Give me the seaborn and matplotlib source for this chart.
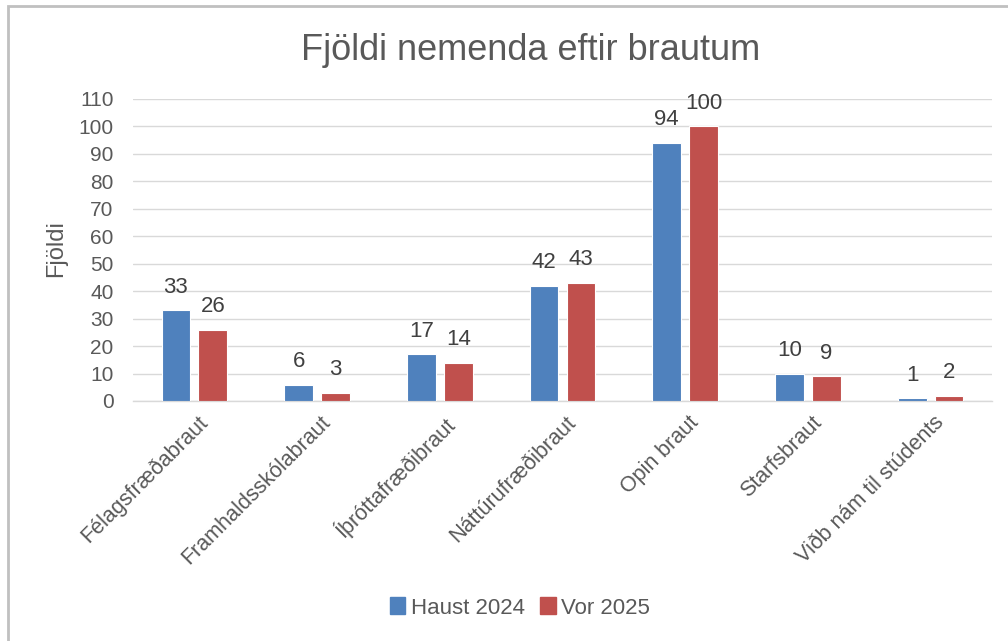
import matplotlib
matplotlib.use("Agg")
import matplotlib.pyplot as plt
import matplotlib.patches as mpatches
import matplotlib.transforms as mtransforms
import seaborn as sns
import pandas as pd

categories = ["Félagsfræðabraut", "Framhaldsskólabraut", "Íþróttafræðibraut",
              "Náttúrufræðibraut", "Opin braut", "Starfsbraut", "Viðb nám til stúdents"]
haust_2024 = [33, 6, 17, 42, 94, 10, 1]
vor_2025 = [26, 3, 14, 43, 100, 9, 2]
series_names = ["Haust 2024", "Vor 2025"]
yticks = list(range(0, 111, 10))

df = pd.DataFrame({
    "Braut": categories * 2,
    "Fjöldi": haust_2024 + vor_2025,
    "Tímabil": [series_names[0]] * len(categories) + [series_names[1]] * len(categories),
})

sns.set_theme(style="white")
plt.rcParams["font.family"] = ["Liberation Sans", "DejaVu Sans"]
grey = "#595959"

fig = plt.figure(figsize=(10.08, 6.41), dpi=100)
ax = fig.add_axes([133/1008, 1 - 401/641, (992-133)/1008, (401-99)/641])

palette = {"Haust 2024": "#4F81BD", "Vor 2025": "#C0504D"}
sns.barplot(data=df, x="Braut", y="Fjöldi", hue="Tímabil", palette=palette,
            width=0.6, gap=0.22, ax=ax, edgecolor="white", linewidth=0.8,
            saturation=1, legend=False, zorder=3)

for cont in ax.containers:
    ax.bar_label(cont, padding=9, fontsize=16, color="#404040")

ax.set_ylim(0, 110)
ax.set_yticks(yticks)
ax.set_xlim(-0.5, len(categories) - 0.5)
ax.yaxis.grid(True, color="#D9D9D9", linewidth=1, zorder=0)
for s in ["top", "right", "left"]:
    ax.spines[s].set_visible(False)
ax.spines["bottom"].set_color("#D9D9D9")
ax.spines["bottom"].set_linewidth(1)
ax.tick_params(axis="y", length=0, labelsize=15, colors=grey, pad=14)
ax.tick_params(axis="x", length=0, colors=grey, pad=8)
offset = mtransforms.ScaledTranslation(3/100, 0, fig.dpi_scale_trans)
for lbl in ax.get_xticklabels():
    lbl.set_rotation(45)
    lbl.set_ha("right")
    lbl.set_va("top")
    lbl.set_rotation_mode("anchor")
    lbl.set_fontsize(15.5)
    lbl.set_color(grey)
    lbl.set_transform(lbl.get_transform() + offset)
ax.set_xlabel("")
ax.set_ylabel("")
fig.text(56/1008, 1 - 249/641, "Fjöldi", rotation=90, ha="center", va="center",
         fontsize=17, color=grey)

fig.text(531/1008, 1 - 60/641, "Fjöldi nemenda eftir brautum", ha="center", va="baseline",
         fontsize=26, color=grey)

handles = [mpatches.Patch(color=palette[n], label=n) for n in series_names]
fig.legend(handles=handles, loc="center", bbox_to_anchor=(520/1008, 1 - 608/641),
           ncol=2, frameon=False, fontsize=16, handlelength=0.7, handleheight=0.8,
           handletextpad=0.25, columnspacing=0.7, labelcolor=grey)

border = mpatches.Rectangle((8/1008, -0.1), 1.2, 1 - 6/641 + 0.1, transform=fig.transFigure,
                            fill=False, edgecolor="#C0C0C0", linewidth=2)
fig.patches.append(border)

fig.savefig("out.png", dpi=100)
